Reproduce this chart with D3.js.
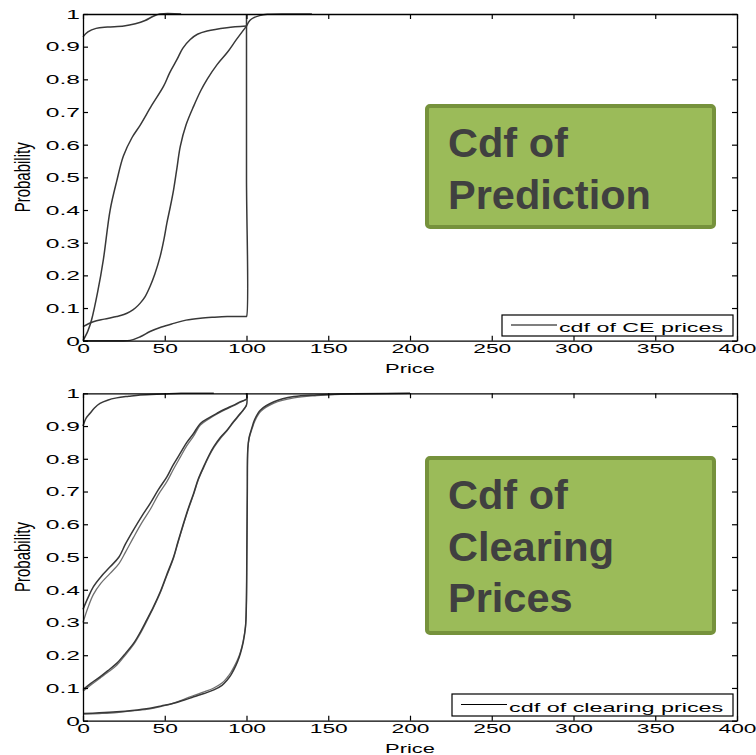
<!DOCTYPE html>
<html><head><meta charset="utf-8">
<script src="https://cdn.jsdelivr.net/npm/d3@7"></script>
<style>body{margin:0;background:#fff}svg{display:block}</style>
</head><body>
<svg id="c" width="756" height="755"></svg>
<script>
// ---------- data ----------
const xTicks = [0, 50, 100, 150, 200, 250, 300, 350, 400];
const yTicks = [0, 0.1, 0.2, 0.3, 0.4, 0.5, 0.6, 0.7, 0.8, 0.9, 1];
const xTickLabels = ["0","50","100","150","200","250","300","350","400"];
const yTickLabels = ["0","0.1","0.2","0.3","0.4","0.5","0.6","0.7","0.8","0.9","1"];
const xLabel = "Price";
const yLabel = "Probability";
const legendTop = "cdf of CE prices";
const legendBottom = "cdf of clearing prices";
const noteTop = ["Cdf of", "Prediction"];
const noteBottom = ["Cdf of", "Clearing", "Prices"];

// top panel: cdf of CE prices (price, probability)
const predA = [[0,0.93],[3,0.945],[8,0.956],[15,0.96],[25,0.963],[32,0.97],[38,0.98],[43,0.993],[47,1],[60,1]];
const predB = [[0,0],[3,0.03],[5.3,0.065],[9,0.15],[12.5,0.25],[16.6,0.4],[20.7,0.49],[24.7,0.565],[30,0.622],[35,0.66],[42,0.72],[49.3,0.779],[53,0.82],[57.5,0.861],[61,0.895],[65.6,0.922],[70,0.938],[75.9,0.948],[88,0.958],[100,0.963]];
const predC = [[0,0.043],[6.3,0.058],[13,0.066],[20.6,0.074],[25,0.08],[28.8,0.089],[32,0.1],[35,0.115],[38,0.135],[41,0.166],[44,0.205],[47.2,0.258],[49.5,0.31],[51.3,0.36],[53.4,0.41],[55.4,0.462],[57.5,0.53],[59.5,0.595],[63,0.66],[67.7,0.718],[72,0.765],[75.9,0.8],[82,0.845],[88.2,0.882],[94,0.923],[100,0.963]];
const predTail = [[100,0.963],[102,0.98],[104.5,0.989],[108,0.995],[112.7,0.999],[128,1],[140,1]];
const predD = [[0,0],[20,0],[28.8,0.001],[35,0.012],[41,0.028],[48,0.042],[55.4,0.053],[63,0.063],[71.8,0.069],[80,0.072],[88.2,0.074],[99.6,0.074],[100,0.074],[100,0.5],[100,1]];

// bottom panel: cdf of clearing prices (pairs of nearly overlapping curves)
const clearA = [[0,0.9],[2,0.925],[4.3,0.939],[7,0.955],[10.4,0.969],[15,0.979],[20.6,0.986],[28,0.991],[35,0.995],[49.3,0.998],[60,1],[80,1]];
const clearB1 = [[0,0.34],[3,0.375],[6.3,0.409],[11,0.44],[16.6,0.47],[22,0.5],[26,0.54],[30.9,0.583],[36,0.625],[41.1,0.664],[46,0.705],[51.3,0.745],[55,0.78],[59.5,0.817],[63.5,0.85],[67.7,0.878],[71.8,0.908],[77,0.925],[82,0.939],[87,0.952],[92.2,0.964],[96,0.974],[100,0.982],[100,1]];
const clearB2 = [[0,0.3],[3,0.345],[6.3,0.385],[11,0.42],[16.6,0.45],[22,0.48],[26,0.515],[30.9,0.56],[36,0.605],[41.1,0.645],[46,0.69],[51.3,0.73],[55,0.765],[59.5,0.805],[63.5,0.84],[67.7,0.87],[71.8,0.903],[77,0.922],[82,0.937],[87,0.95],[92.2,0.962],[96,0.972],[100,0.982]];
const clearC1 = [[0,0.095],[5,0.115],[10.4,0.134],[15,0.152],[20.6,0.175],[25,0.2],[30.9,0.236],[35,0.27],[39,0.308],[43,0.347],[47.2,0.393],[51,0.443],[55.4,0.5],[58,0.545],[61.5,0.603],[64.5,0.65],[67.7,0.695],[70.5,0.738],[73.8,0.776],[77,0.81],[80,0.837],[84,0.865],[88.2,0.888],[92,0.913],[96.3,0.939],[100,0.964],[100,1]];
const clearC2 = [[0,0.09],[5,0.11],[10.4,0.13],[15,0.147],[20.6,0.169],[25,0.195],[30.9,0.232],[35,0.266],[39,0.304],[43,0.344],[47.2,0.39],[51,0.44],[55.4,0.497],[58,0.542],[61.5,0.6],[64.5,0.647],[67.7,0.692],[70.5,0.735],[73.8,0.773],[77,0.807],[80,0.834],[84,0.862],[88.2,0.886],[92,0.911],[96.3,0.937],[100,0.962]];
const clearD1 = [[0,0.022],[10,0.024],[20.6,0.027],[30,0.031],[41,0.038],[48,0.045],[55.4,0.053],[62,0.063],[67.7,0.073],[74,0.083],[80,0.094],[85,0.108],[88.2,0.124],[90.5,0.14],[92.2,0.155],[94.5,0.18],[96.3,0.206],[98,0.24],[99.4,0.287],[99.9,0.35],[100.2,0.5],[100.5,0.7],[100.8,0.83],[101.6,0.865],[103.5,0.898],[105,0.92],[108.6,0.949],[116.8,0.974],[129,0.99],[143,0.995],[157.7,0.998],[200,1]];
const clearD2 = [[0,0.02],[10,0.022],[20.6,0.025],[30,0.03],[41,0.036],[48,0.044],[55.4,0.054],[62,0.066],[67.7,0.077],[74,0.088],[80,0.1],[85,0.115],[88.2,0.132],[90.5,0.148],[92.2,0.163],[94.5,0.186],[96.3,0.21],[98,0.244],[99.4,0.29],[99.9,0.35],[100.2,0.5],[100.5,0.7],[100.8,0.83],[101.6,0.862],[103.5,0.893],[105,0.914],[108.6,0.944],[116.8,0.97],[129,0.986],[143,0.993],[157.7,0.997],[200,1]];

// ---------- drawing ----------
const svg = d3.select("#c");
const FONT = "'Liberation Sans', Arial, Helvetica, sans-serif";
const SX = 1.9;       // horizontal stretch of the original figure text
const L = 83, R = 737;

const panels = [
  {top: 14, bottom: 340.7, curves: [predA, predB, predC, predTail, predD], pale: [],
   legend: legendTop, legL: 502, legTop: 315, legBot: 336, legSX: 1.86,
   note: noteTop, noteBox: [427, 106, 287, 121], noteY0: 157},
  {top: 393.3, bottom: 720.7, curves: [clearA, clearB1, clearC1, clearD1], pale: [clearB2, clearC2, clearD2],
   legend: legendBottom, legL: 452, legTop: 694, legBot: 716, legSX: 1.87,
   note: noteBottom, noteBox: [427, 458, 287, 175], noteY0: 509}
];

panels.forEach(p => {
  const x = d3.scaleLinear().domain([0, 400]).range([L, R]);
  const y = d3.scaleLinear().domain([0, 1]).range([p.bottom, p.top]);
  const g = svg.append("g");

  const line = d3.line().x(d => x(d[0])).y(d => y(d[1])).curve(d3.curveCatmullRom.alpha(0.5));

  g.selectAll("path.pale").data(p.pale).join("path")
    .attr("class", "pale").attr("d", line)
    .attr("fill", "none").attr("stroke", "#707070").attr("stroke-width", 1.3);
  g.selectAll("path.cur").data(p.curves).join("path")
    .attr("class", "cur").attr("d", line)
    .attr("fill", "none").attr("stroke", "#383838").attr("stroke-width", 1.5);

  // axes (box with inward ticks on all sides)
  const styleAxis = a => {
    a.selectAll("path.domain").attr("stroke", "#000").attr("stroke-width", 1.3);
    a.selectAll(".tick line").attr("stroke", "#000").attr("stroke-width", 1.2);
  };
  const bottomAx = g.append("g").attr("transform", `translate(0,${p.bottom})`)
    .call(d3.axisBottom(x).tickValues(xTicks).tickSizeInner(-5).tickSizeOuter(0)
      .tickFormat((d, i) => xTickLabels[i]));
  bottomAx.call(styleAxis);
  bottomAx.selectAll(".tick text")
    .attr("y", 4).attr("dy", "0.71em")
    .attr("transform", `scale(${SX},1)`)
    .attr("font-family", FONT).attr("font-size", 12).attr("fill", "#000");

  const leftAx = g.append("g").attr("transform", `translate(${L},0)`)
    .call(d3.axisLeft(y).tickValues(yTicks).tickSizeInner(-5).tickSizeOuter(0)
      .tickFormat((d, i) => yTickLabels[i]));
  leftAx.call(styleAxis);
  leftAx.selectAll(".tick text")
    .attr("x", -3 / 2.05).attr("dy", "0.36em")
    .attr("transform", `scale(2.05,1)`)
    .attr("font-family", FONT).attr("font-size", 12).attr("fill", "#000");

  g.append("g").attr("transform", `translate(0,${p.top})`)
    .call(d3.axisTop(x).tickValues(xTicks).tickSizeInner(-5).tickSizeOuter(0).tickFormat(""))
    .call(styleAxis);
  g.append("g").attr("transform", `translate(${R},0)`)
    .call(d3.axisRight(y).tickValues(yTicks).tickSizeInner(-5).tickSizeOuter(0).tickFormat(""))
    .call(styleAxis);
  g.selectAll(".domain").attr("fill", "none");

  // axis labels
  g.append("text").text(xLabel)
    .attr("transform", `translate(${(L + R) / 2},${p.bottom + 32}) scale(1.75,1)`)
    .attr("text-anchor", "middle").attr("font-family", FONT).attr("font-size", 12.5);
  g.append("text").text(yLabel)
    .attr("transform", `translate(30,${(p.top + p.bottom) / 2}) scale(1.5,1) rotate(-90)`)
    .attr("text-anchor", "middle").attr("font-family", FONT).attr("font-size", 15);

  // legend
  const lg = g.append("g");
  lg.append("rect").attr("x", p.legL).attr("y", p.legTop)
    .attr("width", 733 - p.legL).attr("height", p.legBot - p.legTop)
    .attr("fill", "#fff").attr("stroke", "#000").attr("stroke-width", 1.2);
  const ly = (p.legTop + p.legBot) / 2 - 0.5;
  lg.append("line").attr("x1", p.legL + 9).attr("x2", p.legL + 55)
    .attr("y1", ly).attr("y2", ly).attr("stroke", "#000").attr("stroke-width", 1.1);
  lg.append("text").text(p.legend)
    .attr("transform", `translate(${p.legL + 57},${p.legBot - 4.5}) scale(${p.legSX},1)`)
    .attr("font-family", FONT).attr("font-size", 12.5);

  // green annotation box
  const [bx, by, bw, bh] = p.noteBox;
  g.append("rect").attr("x", bx).attr("y", by).attr("width", bw).attr("height", bh)
    .attr("rx", 3).attr("fill", "#9bbb59").attr("stroke", "#76923c").attr("stroke-width", 4);
  g.selectAll("text.note").data(p.note).join("text").attr("class", "note")
    .attr("x", 448).attr("y", (d, i) => p.noteY0 + i * 51.5)
    .text(d => d)
    .attr("font-family", FONT).attr("font-weight", "bold").attr("font-size", 41.5).attr("fill", "#404040");
});
</script>
</body></html>
